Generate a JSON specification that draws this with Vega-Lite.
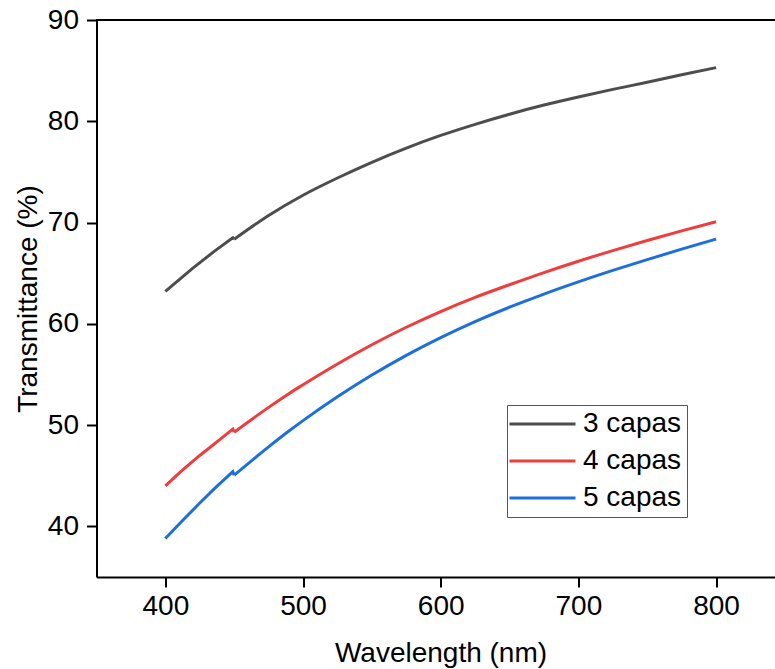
{
  "$schema": "https://vega.github.io/schema/vega-lite/v6.json",
  "autosize": {"type": "none"},
  "padding": {"left": 96.5, "top": 20, "right": 0, "bottom": 92},
  "width": 678.5,
  "height": 557,
  "config": {
    "view": {"stroke": null},
    "font": "Liberation Sans",
    "axis": {"domainColor": "#000", "domainWidth": 2, "tickColor": "#000", "tickWidth": 2, "tickSize": 10, "labelColor": "#000", "titleColor": "#000", "labelFont": "Liberation Sans", "titleFont": "Liberation Sans", "titleFontWeight": "normal", "grid": false}
  },
  "data": {"values": [
    {"wl": 400, "t": 63.2, "s": "3 capas", "seg": "a"}, {"wl": 420, "t": 65.5, "s": "3 capas", "seg": "a"}, {"wl": 435, "t": 67.1, "s": "3 capas", "seg": "a"}, {"wl": 449, "t": 68.5, "s": "3 capas", "seg": "a"}, {"wl": 450, "t": 68.35, "s": "3 capas", "seg": "a"},
    {"wl": 450, "t": 68.35, "s": "3 capas", "seg": "b"}, {"wl": 475, "t": 70.7, "s": "3 capas", "seg": "b"}, {"wl": 500, "t": 72.7, "s": "3 capas", "seg": "b"}, {"wl": 525, "t": 74.4, "s": "3 capas", "seg": "b"}, {"wl": 550, "t": 75.95, "s": "3 capas", "seg": "b"}, {"wl": 575, "t": 77.35, "s": "3 capas", "seg": "b"}, {"wl": 600, "t": 78.6, "s": "3 capas", "seg": "b"}, {"wl": 625, "t": 79.7, "s": "3 capas", "seg": "b"}, {"wl": 650, "t": 80.7, "s": "3 capas", "seg": "b"}, {"wl": 675, "t": 81.6, "s": "3 capas", "seg": "b"}, {"wl": 700, "t": 82.4, "s": "3 capas", "seg": "b"}, {"wl": 725, "t": 83.15, "s": "3 capas", "seg": "b"}, {"wl": 750, "t": 83.85, "s": "3 capas", "seg": "b"}, {"wl": 775, "t": 84.6, "s": "3 capas", "seg": "b"}, {"wl": 800, "t": 85.3, "s": "3 capas", "seg": "b"},
    {"wl": 400, "t": 44.0, "s": "4 capas", "seg": "a"}, {"wl": 412, "t": 45.5, "s": "4 capas", "seg": "a"}, {"wl": 425, "t": 47.0, "s": "4 capas", "seg": "a"}, {"wl": 437, "t": 48.3, "s": "4 capas", "seg": "a"}, {"wl": 449, "t": 49.6, "s": "4 capas", "seg": "a"}, {"wl": 450, "t": 49.3, "s": "4 capas", "seg": "a"},
    {"wl": 450, "t": 49.3, "s": "4 capas", "seg": "b"}, {"wl": 475, "t": 51.75, "s": "4 capas", "seg": "b"}, {"wl": 490, "t": 53.13, "s": "4 capas", "seg": "b"}, {"wl": 500, "t": 53.98, "s": "4 capas", "seg": "b"}, {"wl": 525, "t": 56.03, "s": "4 capas", "seg": "b"}, {"wl": 550, "t": 57.93, "s": "4 capas", "seg": "b"}, {"wl": 575, "t": 59.66, "s": "4 capas", "seg": "b"}, {"wl": 600, "t": 61.21, "s": "4 capas", "seg": "b"}, {"wl": 625, "t": 62.61, "s": "4 capas", "seg": "b"}, {"wl": 650, "t": 63.86, "s": "4 capas", "seg": "b"}, {"wl": 675, "t": 65.06, "s": "4 capas", "seg": "b"}, {"wl": 700, "t": 66.18, "s": "4 capas", "seg": "b"}, {"wl": 725, "t": 67.23, "s": "4 capas", "seg": "b"}, {"wl": 750, "t": 68.23, "s": "4 capas", "seg": "b"}, {"wl": 775, "t": 69.18, "s": "4 capas", "seg": "b"}, {"wl": 800, "t": 70.08, "s": "4 capas", "seg": "b"},
    {"wl": 400, "t": 38.8, "s": "5 capas", "seg": "a"}, {"wl": 412, "t": 40.5, "s": "5 capas", "seg": "a"}, {"wl": 425, "t": 42.3, "s": "5 capas", "seg": "a"}, {"wl": 437, "t": 43.9, "s": "5 capas", "seg": "a"}, {"wl": 449, "t": 45.4, "s": "5 capas", "seg": "a"}, {"wl": 450, "t": 45.05, "s": "5 capas", "seg": "a"},
    {"wl": 450, "t": 45.05, "s": "5 capas", "seg": "b"}, {"wl": 475, "t": 47.85, "s": "5 capas", "seg": "b"}, {"wl": 490, "t": 49.44, "s": "5 capas", "seg": "b"}, {"wl": 500, "t": 50.44, "s": "5 capas", "seg": "b"}, {"wl": 525, "t": 52.79, "s": "5 capas", "seg": "b"}, {"wl": 550, "t": 54.94, "s": "5 capas", "seg": "b"}, {"wl": 575, "t": 56.89, "s": "5 capas", "seg": "b"}, {"wl": 600, "t": 58.64, "s": "5 capas", "seg": "b"}, {"wl": 625, "t": 60.22, "s": "5 capas", "seg": "b"}, {"wl": 650, "t": 61.64, "s": "5 capas", "seg": "b"}, {"wl": 675, "t": 62.94, "s": "5 capas", "seg": "b"}, {"wl": 700, "t": 64.14, "s": "5 capas", "seg": "b"}, {"wl": 725, "t": 65.27, "s": "5 capas", "seg": "b"}, {"wl": 750, "t": 66.34, "s": "5 capas", "seg": "b"}, {"wl": 775, "t": 67.37, "s": "5 capas", "seg": "b"}, {"wl": 800, "t": 68.37, "s": "5 capas", "seg": "b"}
  ]},
  "encoding": {
    "x": {"field": "wl", "type": "quantitative", "scale": {"domain": [350, 842.8], "nice": false, "zero": false},
      "axis": {"values": [400, 500, 600, 700, 800], "title": "Wavelength (nm)", "labelFontSize": 28, "titleFontSize": 28, "labelPadding": 5, "titlePadding": 19, "titleX": 344}},
    "y": {"field": "t", "type": "quantitative", "scale": {"domain": [35, 90], "nice": false, "zero": false},
      "axis": {"values": [40, 50, 60, 70, 80, 90], "title": "Transmittance (%)", "labelFontSize": 28, "titleFontSize": 28, "labelPadding": 8, "titlePadding": 5}},
    "color": {"field": "s", "type": "nominal", "scale": {"domain": ["3 capas", "4 capas", "5 capas"], "range": ["#4d4d4d", "#ef3d3d", "#1e6fdc"]},
      "legend": {"title": null, "orient": "none", "legendX": 410.5, "legendY": 385, "symbolType": "M-1.5,0H4.5", "symbolSize": 484, "symbolStrokeWidth": 3, "labelFontSize": 28, "labelColor": "#000", "labelOffset": 43, "strokeColor": "#555", "padding": 5, "rowPadding": 9}}
  },
  "layer": [
    {
      "mark": {"type": "rule", "color": "#000", "strokeWidth": 2},
      "encoding": {"y": {"datum": 90, "type": "quantitative"}, "x": null, "color": null}
    },
    {
      "transform": [{"filter": "datum.seg === 'a'"}],
      "mark": {"type": "line", "strokeWidth": 3, "interpolate": "linear"}
    },
    {
      "transform": [{"filter": "datum.seg === 'b'"}],
      "mark": {"type": "line", "strokeWidth": 3, "interpolate": "monotone"}
    }
  ]
}
